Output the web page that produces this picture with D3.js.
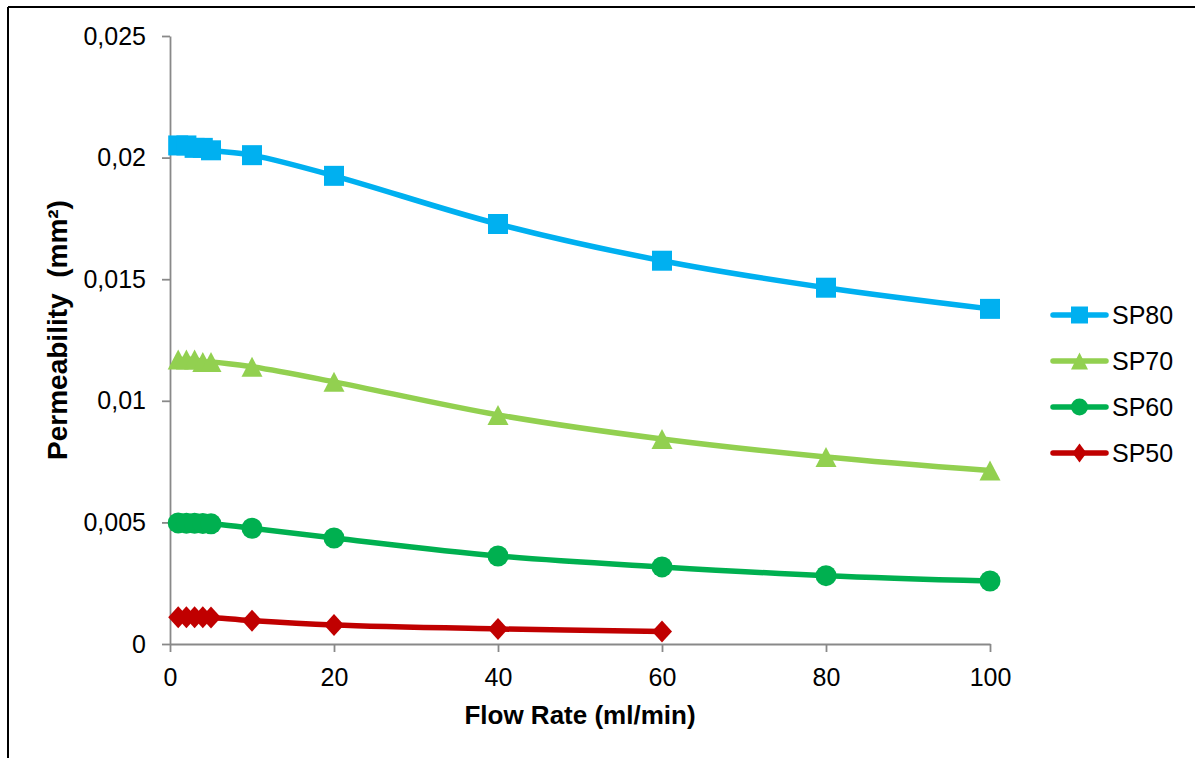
<!DOCTYPE html>
<html>
<head>
<meta charset="utf-8">
<script src="https://cdn.jsdelivr.net/npm/d3@7"></script>
<style>
  html, body { margin: 0; padding: 0; background: #fff; }
  svg { display: block; font-family: "Liberation Sans", Arial, sans-serif; }
</style>
</head>
<body>
<svg id="chart" width="1200" height="758"></svg>
<script>
// Flow rates (ml/min) at which permeability was measured
const flowRates = [1, 2, 3, 4, 5, 10, 20, 40, 60, 80, 100];

// Permeability (mm²) per sample
const sp80 = [0.0205, 0.0205, 0.0204, 0.0204, 0.0203, 0.0201, 0.01925, 0.01727, 0.01576, 0.01465, 0.01378];
const sp70 = [0.0117, 0.0117, 0.0117, 0.0116, 0.0116, 0.0114, 0.01078, 0.00942, 0.00843, 0.00769, 0.00713];
const sp60 = [0.00498, 0.00497, 0.00496, 0.00495, 0.00494, 0.00476, 0.00436, 0.00362, 0.00317, 0.00281, 0.00259];
const sp50 = [0.0011, 0.0011, 0.0011, 0.0011, 0.00109, 0.00096, 0.00078, 0.00062, 0.00051];

const seriesNames = ["SP80", "SP70", "SP60", "SP50"];
const seriesColors = ["#00B0F0", "#92D050", "#00B050", "#C00000"];
const seriesSymbols = ["square", "triangle", "circle", "diamond"];

const xTickValues = [0, 20, 40, 60, 80, 100];
const xTickLabels = ["0", "20", "40", "60", "80", "100"];
const yTickValues = [0, 0.005, 0.01, 0.015, 0.02, 0.025];
const yTickLabels = ["0", "0,005", "0,01", "0,015", "0,02", "0,025"];

const seriesData = [sp80, sp70, sp60, sp50].map((vals, i) => ({
  name: seriesNames[i],
  color: seriesColors[i],
  symbol: seriesSymbols[i],
  points: vals.map((v, j) => ({ x: flowRates[j], y: v }))
}));

const svg = d3.select("#chart");
const axisColor = "#898989";
const fontSize = 25;

// outer frame (top and left edges)
svg.append("line").attr("x1", 8).attr("y1", 7).attr("x2", 1195).attr("y2", 7)
  .attr("stroke", "#000").attr("stroke-width", 2);
svg.append("line").attr("x1", 8).attr("y1", 7).attr("x2", 8).attr("y2", 758)
  .attr("stroke", "#000").attr("stroke-width", 2);

const x = d3.scaleLinear().domain([0, 100]).range([170, 990]);
const y = d3.scaleLinear().domain([0, 0.025]).range([644, 36]);

// axes
const yAxis = svg.append("g")
  .attr("transform", `translate(${x(0)},0)`)
  .call(d3.axisLeft(y).tickValues(yTickValues)
    .tickFormat((d, i) => yTickLabels[i])
    .tickSize(8).tickSizeOuter(0).tickPadding(16));

const xAxis = svg.append("g")
  .attr("transform", `translate(0,${y(0)})`)
  .call(d3.axisBottom(x).tickValues(xTickValues)
    .tickFormat((d, i) => xTickLabels[i])
    .tickSize(8).tickSizeOuter(0).tickPadding(16));

[xAxis, yAxis].forEach(g => {
  g.selectAll("path, line").attr("stroke", axisColor).attr("stroke-width", 1.8);
  g.selectAll("text").attr("fill", "#000")
    .style("font-size", fontSize + "px")
    .style("font-family", "'Liberation Sans', Arial, sans-serif");
});

// axis titles
svg.append("text")
  .attr("x", (x(0) + x(100)) / 2).attr("y", 724)
  .attr("text-anchor", "middle")
  .style("font-size", "26px").style("font-weight", "bold")
  .text("Flow Rate (ml/min)");

svg.append("text")
  .attr("transform", "translate(67,330) rotate(-90)")
  .attr("text-anchor", "middle")
  .style("font-size", "28px").style("font-weight", "bold")
  .attr("xml:space", "preserve")
  .style("white-space", "pre")
  .text("Permeability  (mm²)");

// marker path for a given symbol type centred at 0,0
function markerPath(type, w, h) {
  const hw = w / 2, hh = h / 2;
  if (type === "square") return `M${-hw},${-hh}H${hw}V${hh}H${-hw}Z`;
  if (type === "triangle") return `M0,${-hh}L${hw},${hh}L${-hw},${hh}Z`;
  if (type === "diamond") return `M0,${-hh}L${hw},0L0,${hh}L${-hw},0Z`;
  return d3.arc()({ innerRadius: 0, outerRadius: hw, startAngle: 0, endAngle: 2 * Math.PI });
}
const markerSize = { square: [20, 20], triangle: [21, 20], circle: [21, 21], diamond: [20, 22] };
const legendSize = { square: [17, 17], triangle: [17, 17], circle: [17, 17], diamond: [14, 19] };

const line = d3.line().x(d => x(d.x)).y(d => y(d.y)).curve(d3.curveCatmullRom.alpha(0.5));

const plot = svg.append("g");
seriesData.forEach(s => {
  const g = plot.append("g");
  g.append("path").datum(s.points)
    .attr("d", line)
    .attr("fill", "none")
    .attr("stroke", s.color)
    .attr("stroke-width", 5.5)
    .attr("stroke-linejoin", "round")
    .attr("stroke-linecap", "round");
  const [mw, mh] = markerSize[s.symbol];
  g.selectAll("path.mk").data(s.points).join("path")
    .attr("class", "mk")
    .attr("transform", d => `translate(${x(d.x)},${y(d.y)})`)
    .attr("d", markerPath(s.symbol, mw, mh))
    .attr("fill", s.color);
});

// legend
const legend = svg.append("g");
seriesData.forEach((s, i) => {
  const cy = 315 + i * 46;
  const g = legend.append("g").attr("transform", `translate(0,${cy})`);
  g.append("line").attr("x1", 1053).attr("x2", 1106).attr("y1", 0).attr("y2", 0)
    .attr("stroke", s.color).attr("stroke-width", 5.5).attr("stroke-linecap", "round");
  const [lw, lh] = legendSize[s.symbol];
  g.append("path").attr("transform", "translate(1079.5,0)")
    .attr("d", markerPath(s.symbol, lw, lh)).attr("fill", s.color);
  g.append("text").attr("x", 1112).attr("y", 9)
    .style("font-size", fontSize + "px").attr("fill", "#000")
    .text(s.name);
});
</script>
</body>
</html>
